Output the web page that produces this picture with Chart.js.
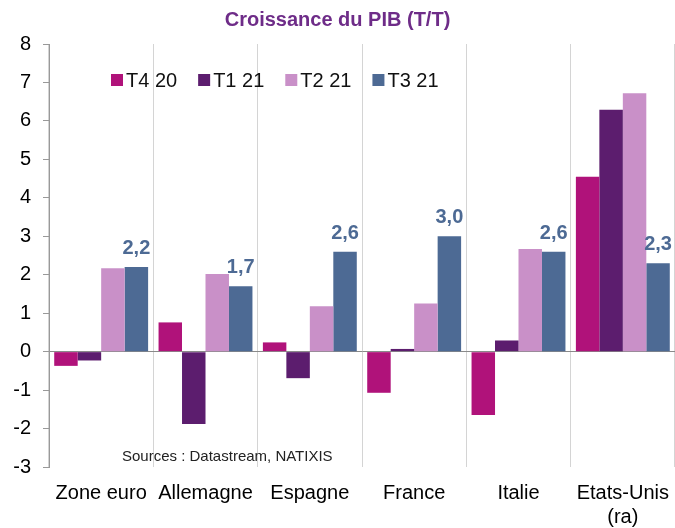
<!DOCTYPE html>
<html>
<head>
<meta charset="utf-8">
<script src="https://cdn.jsdelivr.net/npm/chart.js@4.4.0/dist/chart.umd.min.js"></script>
<style>
html,body{margin:0;padding:0;background:#fff;}
#wrap{width:675px;height:528px;position:relative;}
</style>
</head>
<body>
<div id="wrap"><canvas id="c" width="675" height="528"></canvas></div>
<script>
const categories = ["Zone euro", "Allemagne", "Espagne", "France", "Italie", ["Etats-Unis", "(ra)"]];
const seriesNames = ["T4 20", "T1 21", "T2 21", "T3 21"];
const t4_20 = [-0.37, 0.76, 0.24, -1.07, -1.65, 4.55];
const t1_21 = [-0.23, -1.88, -0.69, 0.07, 0.29, 6.29];
const t2_21 = [2.17, 2.02, 1.18, 1.25, 2.67, 6.72];
const t3_21 = [2.2, 1.7, 2.6, 3.0, 2.6, 2.3];
const yTicks = [-3, -2, -1, 0, 1, 2, 3, 4, 5, 6, 7, 8];
const colors = ["#B0127A", "#5C1D6E", "#C990C8", "#4D6A94"];
const sourceText = "Sources : Datastream, NATIXIS";

const FONT = "'Liberation Sans', Arial, sans-serif";

const overlayPlugin = {
  id: 'overlay',
  afterDatasetsDraw(chart) {
    const ctx = chart.ctx;
    const ca = chart.chartArea;
    ctx.save();
    const meta = chart.getDatasetMeta(3);
    ctx.font = "bold 20px " + FONT;
    ctx.fillStyle = colors[3];
    ctx.textAlign = 'center';
    ctx.textBaseline = 'alphabetic';
    meta.data.forEach((bar, i) => {
      const v = chart.data.datasets[3].data[i];
      ctx.fillText(v.toFixed(1).replace('.', ','), bar.x, bar.y - 13);
    });
    ctx.font = "20px " + FONT;
    ctx.textAlign = 'left';
    ctx.textBaseline = 'middle';
    let x = ca.left + 62;
    const y = ca.top + 36;
    chart.data.datasets.forEach((ds) => {
      ctx.fillStyle = ds.backgroundColor;
      ctx.fillRect(x, y - 6, 12, 12);
      ctx.fillStyle = '#111';
      ctx.fillText(ds.label, x + 15, y + 1);
      x += 15 + ctx.measureText(ds.label).width + 21;
    });
    ctx.font = "15px " + FONT;
    ctx.fillStyle = '#222';
    ctx.textBaseline = 'middle';
    ctx.fillText(sourceText, ca.left + 73, ca.bottom - 10);
    ctx.restore();
  }
};

const seriesData = [t4_20, t1_21, t2_21, t3_21];

new Chart(document.getElementById('c'), {
  type: 'bar',
  data: {
    labels: categories,
    datasets: seriesNames.map((n, i) => ({
      label: n,
      data: seriesData[i],
      backgroundColor: colors[i],
      categoryPercentage: 0.9,
      barPercentage: 1.0
    }))
  },
  options: {
    responsive: false,
    animation: false,
    layout: { padding: { left: 0, right: 0, top: 0, bottom: 0 } },
    plugins: {
      legend: { display: false },
      tooltip: { enabled: false },
      title: {
        display: true,
        text: "Croissance du PIB (T/T)",
        color: '#6E2C88',
        font: { family: FONT, size: 20, weight: 'bold' },
        padding: { top: 8, bottom: 12 }
      }
    },
    scales: {
      x: {
        afterFit(scale) { scale.height = 61; scale.paddingRight = 0; scale.paddingLeft = 0; },
        grid: { offset: true, color: '#d4d4d4', drawTicks: false },
        border: { display: false },
        ticks: { color: '#000', font: { family: FONT, size: 20 }, padding: 14, maxRotation: 0, autoSkip: false }
      },
      y: {
        min: -3, max: 8,
        afterBuildTicks(scale) { scale.ticks = yTicks.map(v => ({ value: v })); },
        afterFit(scale) { scale.width = 49; },
        grid: {
          drawOnChartArea: true,
          drawTicks: true,
          tickLength: 6,
          tickColor: '#999',
          color: (c) => (c.tick && c.tick.value === 0) ? '#8a8a8a' : 'rgba(0,0,0,0)'
        },
        border: { display: true, color: '#999' },
        ticks: { color: '#000', font: { family: FONT, size: 20 }, padding: 12 }
      }
    }
  },
  plugins: [overlayPlugin]
});
</script>
</body>
</html>
